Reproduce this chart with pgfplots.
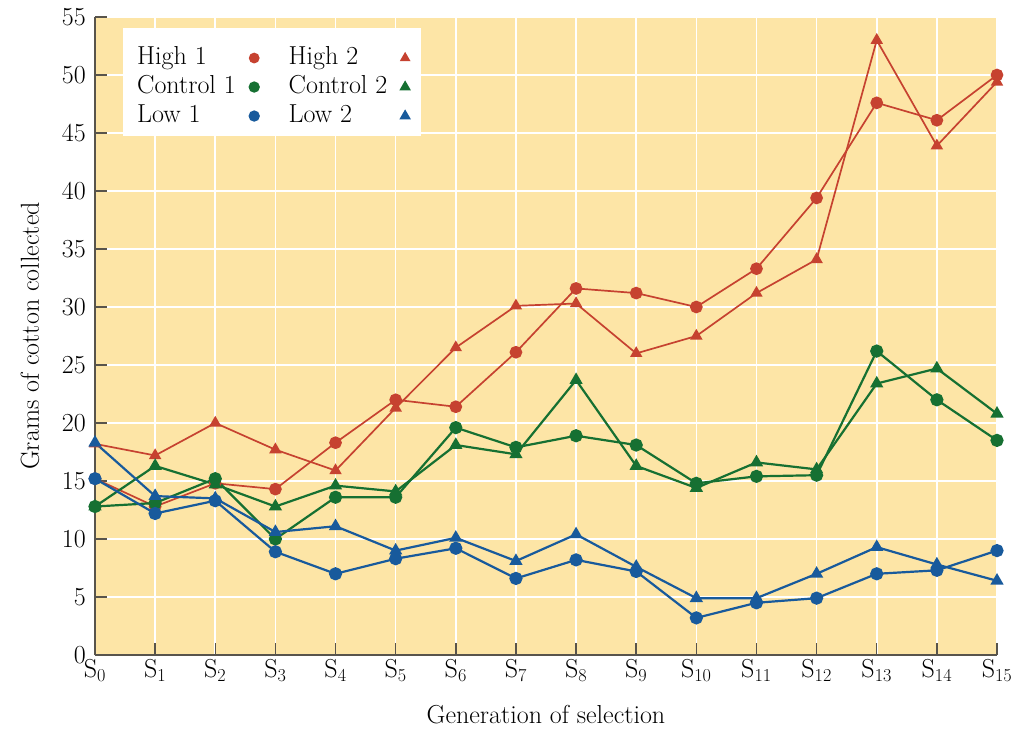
\documentclass[border=0pt]{standalone}
\usepackage{fontspec}
\usepackage{pgfplots}
\pgfplotsset{compat=1.18}
\definecolor{hred}{RGB}{198,66,48}
\definecolor{cgreen}{RGB}{22,112,50}
\definecolor{lblue}{RGB}{24,90,156}
\definecolor{bgyellow}{RGB}{253,229,166}
\definecolor{axisgray}{RGB}{88,84,76}
\begin{document}
\begin{tikzpicture}
\useasboundingbox (-95pt,-75pt) rectangle (924pt,655pt);
\begin{axis}[
  at={(0pt,0pt)}, anchor=south west,
  scale only axis, width=902pt, height=638pt,
  xmin=0, xmax=15, ymin=0, ymax=55,
  axis x line*=bottom, axis y line*=left,
  axis line style={draw=axisgray, line width=1.8pt},
  xtick={0,...,15}, ytick={0,5,...,55},
  xticklabels={S\textsubscript{0},S\textsubscript{1},S\textsubscript{2},S\textsubscript{3},S\textsubscript{4},S\textsubscript{5},S\textsubscript{6},S\textsubscript{7},S\textsubscript{8},S\textsubscript{9},S\textsubscript{10},S\textsubscript{11},S\textsubscript{12},S\textsubscript{13},S\textsubscript{14},S\textsubscript{15}},
  /pgf/number format/assume math mode=true,
  grid=major, major grid style={white, line width=1.6pt},
  axis background/.style={fill=bgyellow},
  tick style={axisgray, line width=1.5pt},
  major tick length=12pt, tick align=inside,
  clip=false,
  ticklabel style={font=\fontsize{26}{30}\selectfont, inner sep=2pt},
  xticklabel style={yshift=-2pt},
  yticklabel style={xshift=-7pt},
  xlabel={Generation of selection},
  ylabel={Grams of cotton collected},
  label style={font=\fontsize{26}{30}\selectfont},
  x label style={at={(axis description cs:0.5,-0.094)}, anchor=center},
  y label style={at={(axis description cs:-0.072,0.5)}, anchor=center, rotate=0},
  legend columns=2, legend plot pos=right, legend cell align=left,
  legend style={at={(axis description cs:0.031,0.983)}, anchor=north west,
    draw=none, fill=white, font=\fontsize{26}{28}\selectfont,
    inner xsep=12pt, inner ysep=11pt,
    nodes={inner sep=2pt, text height=23pt, text depth=1pt},
    row sep=1pt,
    /tikz/every odd column/.append style={column sep=12pt},
    /tikz/every even column/.append style={column sep=28pt}},
  legend image code/.code={\path[#1, only marks, mark size=4.5pt] plot coordinates {(0cm,-5pt)};},
  every axis plot/.append style={line width=2.2pt, mark size=5.5pt},
]
\addplot[color=hred, line width=1.7pt, mark=*] coordinates {
(0,15.2)(1,12.8)(2,14.8)(3,14.3)(4,18.3)(5,22.0)(6,21.4)(7,26.1)(8,31.6)(9,31.2)(10,30.0)(11,33.3)(12,39.4)(13,47.6)(14,46.1)(15,50.0)};
\addlegendentry{High 1}
\addplot[color=hred, line width=1.7pt, mark=triangle*] coordinates {
(0,18.2)(1,17.2)(2,20.0)(3,17.7)(4,15.9)(5,21.3)(6,26.5)(7,30.1)(8,30.3)(9,26.0)(10,27.5)(11,31.2)(12,34.1)(13,53.0)(14,43.9)(15,49.4)};
\addlegendentry{High 2}
\addplot[color=cgreen, mark=*] coordinates {
(0,12.8)(1,13.1)(2,15.2)(3,10.0)(4,13.6)(5,13.6)(6,19.6)(7,17.9)(8,18.9)(9,18.1)(10,14.8)(11,15.4)(12,15.5)(13,26.2)(14,22.0)(15,18.5)};
\addlegendentry{Control 1}
\addplot[color=cgreen, mark=triangle*] coordinates {
(0,12.8)(1,16.3)(2,14.7)(3,12.8)(4,14.6)(5,14.1)(6,18.1)(7,17.3)(8,23.7)(9,16.3)(10,14.4)(11,16.6)(12,16.0)(13,23.4)(14,24.7)(15,20.8)};
\addlegendentry{Control 2}
\addplot[color=lblue, mark=*] coordinates {
(0,15.2)(1,12.2)(2,13.3)(3,8.9)(4,7.0)(5,8.3)(6,9.2)(7,6.6)(8,8.2)(9,7.2)(10,3.2)(11,4.5)(12,4.9)(13,7.0)(14,7.3)(15,9.0)};
\addlegendentry{Low 1}
\addplot[color=lblue, mark=triangle*] coordinates {
(0,18.3)(1,13.7)(2,13.5)(3,10.6)(4,11.1)(5,9.0)(6,10.1)(7,8.1)(8,10.4)(9,7.6)(10,4.9)(11,4.9)(12,7.0)(13,9.3)(14,7.8)(15,6.4)};
\addlegendentry{Low 2}
\end{axis}
\end{tikzpicture}
\end{document}
